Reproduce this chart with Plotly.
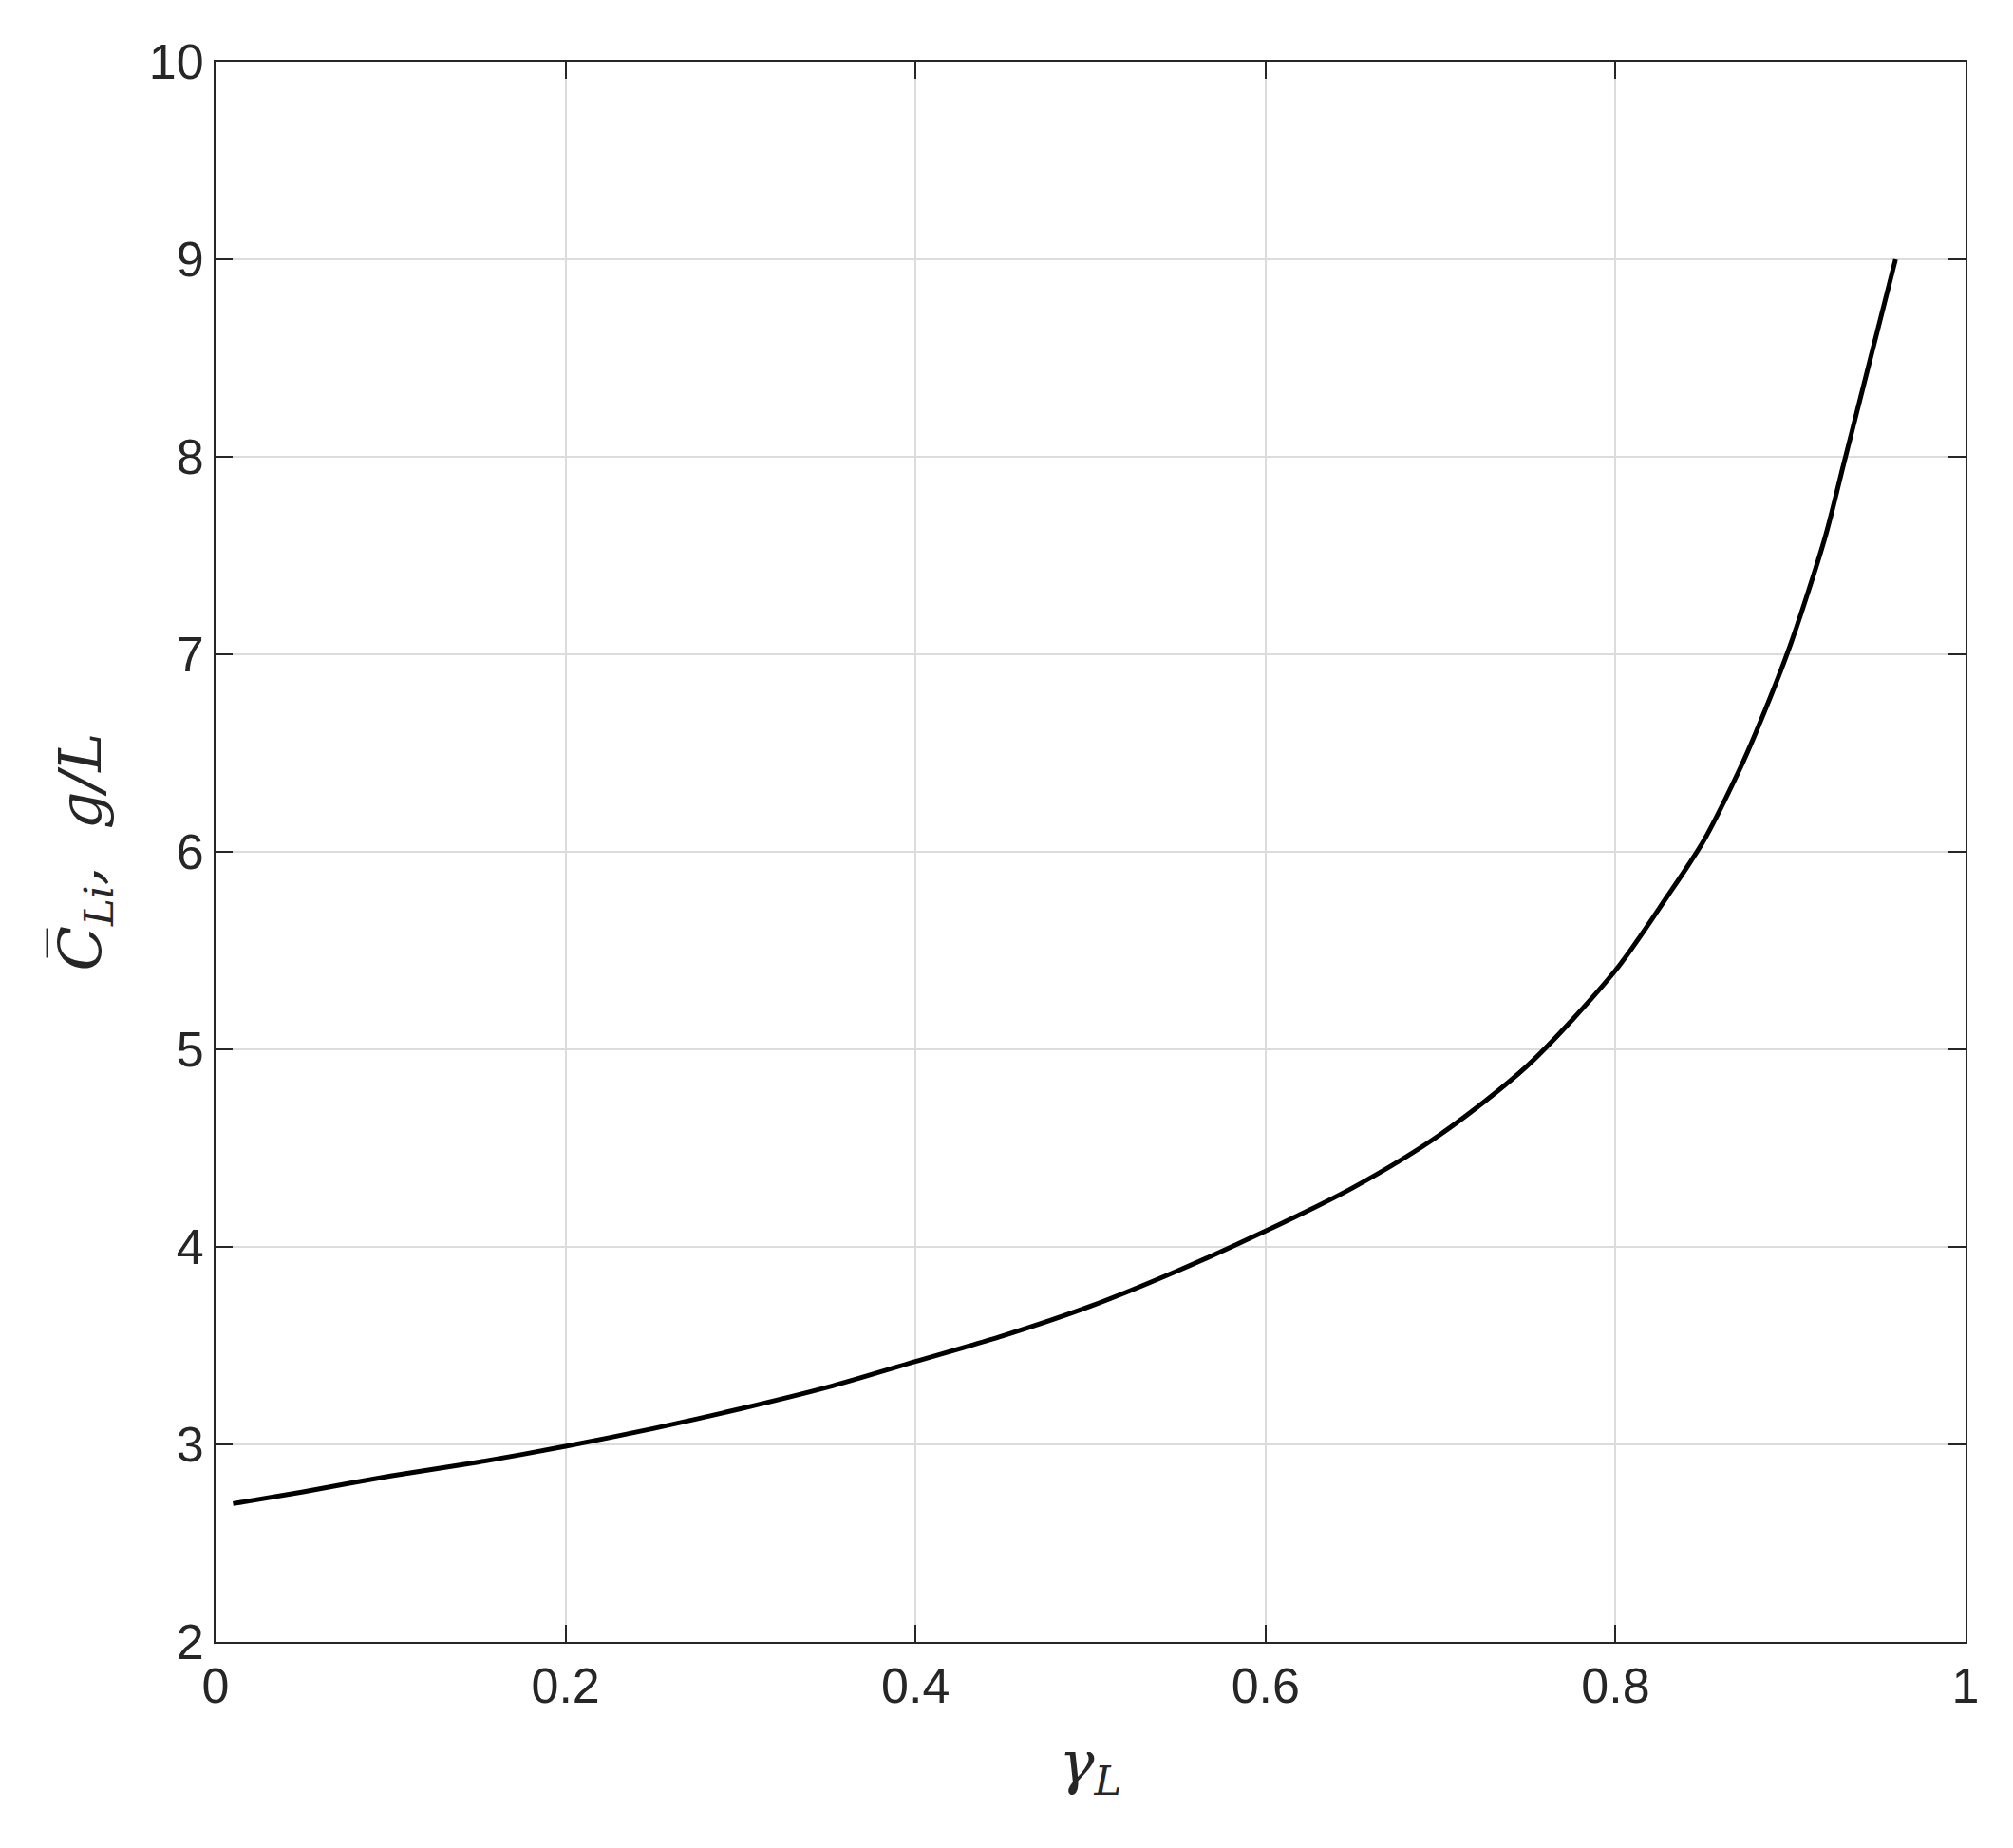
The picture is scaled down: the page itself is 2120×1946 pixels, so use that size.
import plotly.graph_objects as go

gamma_L = [0.01, 0.05, 0.1, 0.15, 0.2, 0.25, 0.3, 0.35, 0.4, 0.45, 0.5, 0.55,
           0.6, 0.65, 0.7, 0.75, 0.8, 0.83, 0.85, 0.87, 0.88, 0.9, 0.92, 0.93, 0.94, 0.95, 0.96]
c_li = [2.70, 2.76, 2.84, 2.91, 2.99, 3.08, 3.18, 3.29, 3.42, 3.55, 3.70, 3.88,
        4.08, 4.30, 4.57, 4.92, 5.40, 5.78, 6.05, 6.40, 6.60, 7.05, 7.60, 7.95, 8.30, 8.65, 9.00]

fig = go.Figure()
fig.add_trace(go.Scatter(x=gamma_L, y=c_li, mode="lines",
                         line=dict(color="black", width=5, shape="spline", smoothing=0.8)))

axis_style = dict(showline=True, linecolor="#262626", linewidth=2, mirror="ticks",
                  ticks="inside", ticklen=18, tickwidth=2, tickcolor="#262626",
                  showgrid=True, gridcolor="#dcdcdc", gridwidth=2, zeroline=False,
                  tickfont=dict(family="Liberation Sans", size=52, color="#262626"))

fig.update_xaxes(range=[0, 1], tickvals=[0, 0.2, 0.4, 0.6, 0.8, 1], ticktext=["0", "0.2", "0.4", "0.6", "0.8", "1"],
                 title=dict(text="<i>γ</i><sub><i>L</i></sub>", font=dict(family="DejaVu Serif", size=62, color="#262626"), standoff=30),
                 **axis_style)
fig.update_yaxes(range=[2, 10], dtick=1,
                 title=dict(text="<i>C̅</i><sub><i>Li</i></sub><i>,  g/L</i>", font=dict(family="DejaVu Serif", size=62, color="#262626"), standoff=30),
                 **axis_style)

fig.update_layout(width=2120, height=1946, showlegend=False,
                  plot_bgcolor="white", paper_bgcolor="white",
                  margin=dict(l=219, r=58, t=57, b=225))

fig.write_html("out.html")
